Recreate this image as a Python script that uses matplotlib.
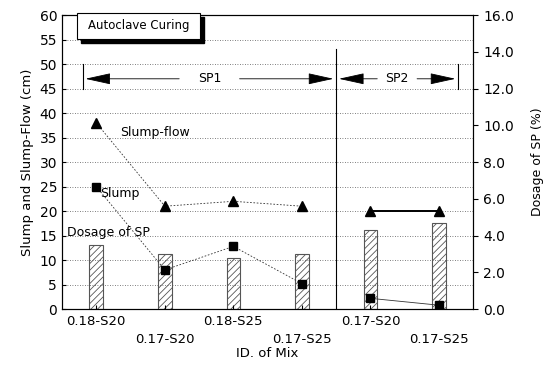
import matplotlib.pyplot as plt
from matplotlib.patches import Rectangle

# values
mix_ids = ['0.18-S20', '0.17-S20', '0.18-S25', '0.17-S25', '0.17-S20', '0.17-S25']
x_pos = [0.5, 1.5, 2.5, 3.5, 4.5, 5.5]
slump_flow = [38, 21, 22, 21, 20, 20]
slump = [25, 8, 12.8, 5.2, 2.2, 0.8]
dosage_sp = [3.5, 3.0, 2.8, 3.0, 4.3, 4.7]
sp1_range = [0.3, 4.0]
sp2_range = [4.0, 5.78]
sp_arrow_y = 47

plt.rcParams['hatch.linewidth'] = 0.6

fig = plt.figure(figsize=(5.49, 3.68), dpi=100)
ax = fig.add_axes([0.113, 0.160, 0.749, 0.799])
ax2 = ax.twinx()

# hatched bars for dosage of SP (right axis)
ax2.bar(x_pos, dosage_sp, width=0.2, color='white', edgecolor='#555555',
        hatch='/////', linewidth=0.8, zorder=2)
ax2.set_ylim(0, 16)
ax2.set_yticks([0, 2, 4, 6, 8, 10, 12, 14, 16])
ax2.set_yticklabels([f'{v:.1f}' for v in range(0, 17, 2)], fontsize=10)
ax2.set_ylabel('Dosage of SP (%)', fontsize=9, labelpad=12)

ax.set_zorder(ax2.get_zorder() + 1)
ax.patch.set_visible(False)

# slump-flow (triangles)
ax.plot(x_pos[:4], slump_flow[:4], ls=(0, (2, 2)), lw=0.6, color='#333333',
        marker='^', ms=7, mfc='black', mec='black')
ax.plot(x_pos[4:], slump_flow[4:], ls='-', lw=1.4, color='black',
        marker='^', ms=7, mfc='black', mec='black')
# slump (filled squares)
ax.plot(x_pos[:4], slump[:4], ls=(0, (2, 2)), lw=0.6, color='#333333',
        marker='s', ms=6, mfc='black', mec='black')
ax.plot(x_pos[4:], slump[4:], ls='-', lw=0.6, color='#333333',
        marker='s', ms=6, mfc='black', mec='black')

ax.set_xlim(0, 6)
ax.set_ylim(0, 60)
ax.set_yticks(range(0, 61, 5))
ax.tick_params(axis='y', labelsize=10, direction='in', length=3)
ax.yaxis.grid(True, ls=(0, (1, 2)), lw=0.6, color='#555555')
ax.set_axisbelow(True)
ax.set_ylabel('Slump and Slump-Flow (cm)', fontsize=9.5)

ax.set_xticks(x_pos)
ax.set_xticklabels([m if i % 2 == 0 else '\n' + m for i, m in enumerate(mix_ids)],
                   fontsize=9.5, linespacing=1.5)
ax.tick_params(axis='x', direction='in', length=3, pad=4)
ax.set_xlabel('ID. of Mix', fontsize=9.5, labelpad=1)

# divider between SP1 and SP2
ax.plot([4, 4], [0, 53], color='black', lw=0.8)

# SP range arrows
for (x0, x1), name, half in [(sp1_range, 'SP1', 0.4), (sp2_range, 'SP2', 0.25)]:
    xm = (x0 + x1) / 2
    for end, start in [(x0, xm - half), (x1, xm + half)]:
        ax.annotate('', xy=(end, sp_arrow_y), xytext=(start, sp_arrow_y),
                    arrowprops=dict(arrowstyle='-|>,head_length=1.0,head_width=0.22',
                                    color='black', lw=0.6, mutation_scale=16))
    ax.text(xm, sp_arrow_y, name, ha='center', va='center', fontsize=9)
ax.plot([sp1_range[0]] * 2, [45, 50], color='black', lw=0.8)
ax.plot([sp2_range[1]] * 2, [45, 50], color='black', lw=0.8)

# series labels
ax.text(0.85, 36, 'Slump-flow', fontsize=9, va='center')
ax.text(0.55, 23.5, 'Slump', fontsize=9, va='center')
ax.text(0.07, 15.7, 'Dosage of SP', fontsize=9, va='center')

# "Autoclave Curing" box with shadow
ax.add_patch(Rectangle((0.045, 0.905), 0.30, 0.09, transform=ax.transAxes,
                       facecolor='black', edgecolor='black', zorder=5, clip_on=False))
ax.add_patch(Rectangle((0.036, 0.918), 0.30, 0.09, transform=ax.transAxes,
                       facecolor='white', edgecolor='black', lw=0.8, zorder=6, clip_on=False))
ax.text(0.186, 0.963, 'Autoclave Curing', transform=ax.transAxes, fontsize=8.5,
        ha='center', va='center', zorder=7)

for s in ax.spines.values():
    s.set_linewidth(0.8)

fig.savefig('out.png', dpi=100)
